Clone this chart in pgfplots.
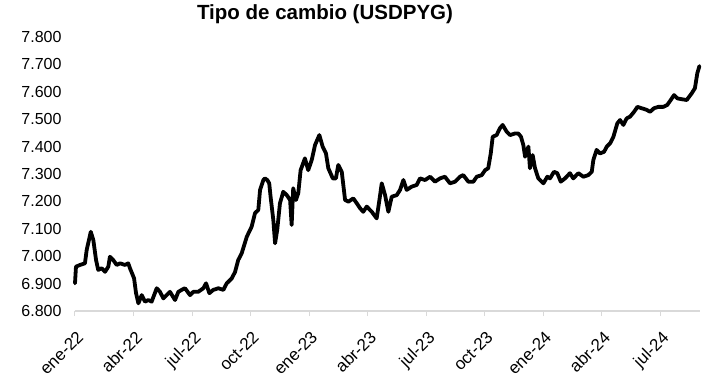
\documentclass[border=0pt]{standalone}
\usepackage{fontspec}
\setmainfont{Liberation Sans}
\usepackage{pgfplots}
\pgfplotsset{compat=1.18}
\definecolor{axgray}{RGB}{217,217,217}
\begin{document}
\begin{tikzpicture}[x=1pt,y=1pt]
\begin{axis}[
  scale only axis,
  width=625pt, height=274pt,
  xmin=0, xmax=32.05,
  ymin=6800, ymax=7800,
  ytick={6800,6900,...,7800},
  xtick={0,3,...,30},
  xticklabels={ene-22,abr-22,jul-22,oct-22,ene-23,abr-23,jul-23,oct-23,ene-24,abr-24,jul-24},
  axis x line*=bottom,
  axis y line*=left,
  x axis line style={draw=axgray, line width=1.2pt, -},
  y axis line style={draw=none},
  xtick style={draw=axgray, line width=1pt},
  tick align=outside,
  major tick length=5pt,
  ytick style={draw=none},
  tick label style={font=\fontsize{16}{18}\selectfont, text=black},
  /pgf/number format/fixed, /pgf/number format/precision=0,
  /pgf/number format/1000 sep={.}, /pgf/number format/assume math mode=true,
  yticklabel style={anchor=east, xshift=-5pt},
  xticklabel style={font=\fontsize{17}{19}\selectfont, xshift=1pt, yshift=-9pt, rotate=45, anchor=north east},
  clip=false,
]
\addplot[black, line width=3.8pt, line join=round, line cap=round] coordinates {
(0.00,6901)(0.05,6962)(0.26,6968)(0.51,6974)(0.60,7023)(0.81,7089)(0.94,7059)(1.08,6986)(1.19,6950)(1.37,6956)(1.54,6943)(1.71,6962)(1.79,6998)(1.96,6986)(2.14,6968)(2.31,6974)(2.56,6968)(2.73,6974)(2.82,6956)(3.03,6919)(3.13,6865)(3.25,6828)(3.42,6858)(3.59,6834)(3.76,6840)(3.93,6834)(4.19,6883)(4.36,6870)(4.53,6846)(4.70,6858)(4.87,6870)(5.13,6840)(5.30,6870)(5.47,6877)(5.64,6883)(5.90,6858)(6.07,6870)(6.32,6870)(6.58,6883)(6.72,6901)(6.89,6865)(7.09,6877)(7.35,6883)(7.61,6877)(7.78,6901)(8.04,6919)(8.21,6943)(8.37,6986)(8.55,7011)(8.81,7071)(9.06,7108)(9.23,7157)(9.40,7169)(9.49,7242)(9.66,7278)(9.74,7284)(9.86,7278)(9.96,7266)(10.03,7217)(10.17,7132)(10.26,7047)(10.37,7096)(10.51,7193)(10.68,7235)(10.86,7223)(11.03,7205)(11.11,7114)(11.19,7248)(11.33,7205)(11.45,7230)(11.57,7314)(11.79,7357)(11.96,7314)(12.14,7351)(12.31,7406)(12.53,7442)(12.70,7400)(12.87,7375)(12.99,7321)(13.22,7284)(13.38,7284)(13.50,7333)(13.68,7308)(13.85,7205)(14.02,7199)(14.27,7211)(14.45,7193)(14.62,7175)(14.78,7162)(14.96,7181)(15.22,7162)(15.47,7138)(15.61,7205)(15.73,7266)(15.90,7223)(16.07,7162)(16.24,7217)(16.50,7223)(16.67,7242)(16.84,7278)(17.01,7242)(17.27,7254)(17.52,7260)(17.69,7284)(17.95,7278)(18.21,7290)(18.46,7272)(18.72,7284)(18.97,7290)(19.23,7266)(19.49,7272)(19.74,7290)(19.91,7296)(20.17,7272)(20.43,7272)(20.60,7290)(20.86,7296)(21.03,7314)(21.19,7321)(21.32,7375)(21.42,7436)(21.62,7442)(21.79,7467)(21.93,7479)(22.14,7454)(22.31,7442)(22.56,7448)(22.73,7448)(22.87,7436)(22.99,7406)(23.08,7363)(23.25,7400)(23.33,7321)(23.47,7369)(23.59,7321)(23.76,7284)(24.02,7266)(24.22,7290)(24.36,7284)(24.56,7308)(24.73,7303)(24.91,7272)(25.13,7284)(25.38,7303)(25.55,7284)(25.81,7303)(26.07,7290)(26.32,7296)(26.50,7308)(26.58,7351)(26.75,7388)(26.92,7375)(27.13,7381)(27.27,7400)(27.44,7412)(27.61,7436)(27.81,7485)(27.95,7497)(28.12,7479)(28.29,7503)(28.46,7509)(28.67,7527)(28.84,7545)(29.06,7540)(29.32,7534)(29.49,7527)(29.69,7540)(29.91,7545)(30.17,7545)(30.37,7552)(30.55,7570)(30.72,7588)(30.89,7576)(31.11,7573)(31.37,7570)(31.62,7594)(31.79,7613)(31.91,7667)(32.02,7694)
};
\end{axis}
\node[font=\fontsize{20.5}{23}\selectfont\bfseries] at (250pt,297pt) {Tipo de cambio (USDPYG)};
\useasboundingbox (-75pt,-67pt) rectangle (630pt,311pt);
\end{tikzpicture}
\end{document}
